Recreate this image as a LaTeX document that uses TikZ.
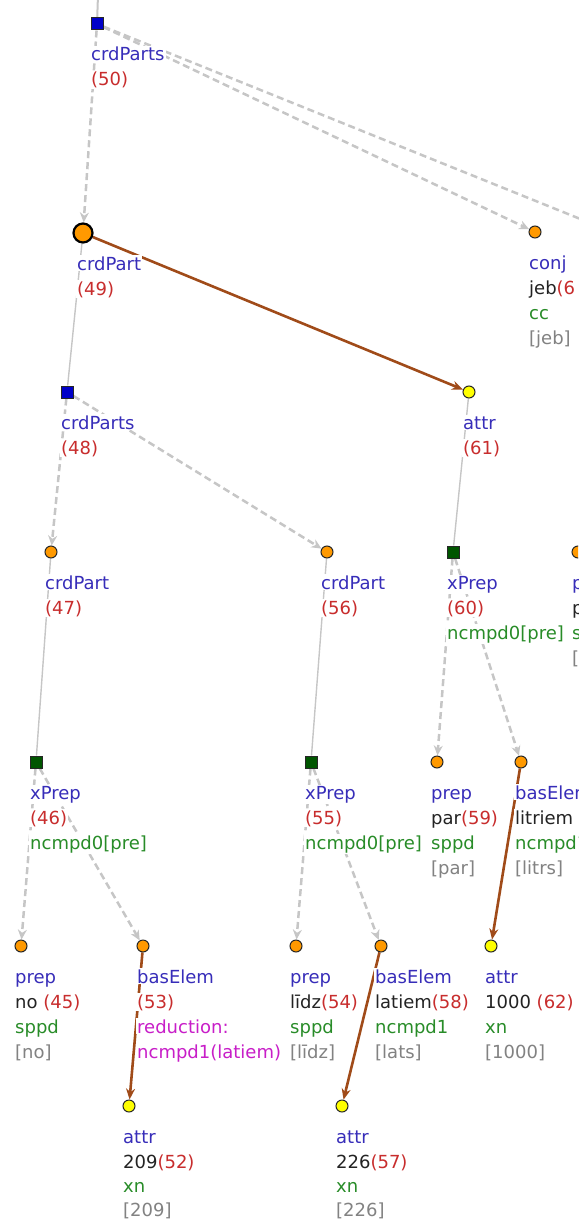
\documentclass[tikz,border=0pt]{standalone}
\usepackage{fontspec}
\setmainfont{DejaVu Sans}
\usetikzlibrary{arrows.meta}
\pgfdeclarelayer{edgelayer}
\pgfsetlayers{edgelayer,main}
\definecolor{typc}{RGB}{55,45,185}
\definecolor{numc}{RGB}{200,45,45}
\definecolor{wrdc}{RGB}{35,35,35}
\definecolor{tagc}{RGB}{40,140,40}
\definecolor{lemc}{RGB}{130,130,130}
\definecolor{redc}{RGB}{200,30,200}
\definecolor{edgc}{RGB}{198,198,198}
\definecolor{brnc}{RGB}{160,75,25}
\definecolor{orgc}{RGB}{255,153,0}
\definecolor{yelc}{RGB}{255,255,0}
\definecolor{bluc}{RGB}{0,0,200}
\definecolor{grnc}{RGB}{0,85,0}
\begin{document}
\begin{tikzpicture}[x=1pt,y=-1pt,
  lab/.style={anchor=base west,inner sep=1pt,fill=white,font=\fontsize{18}{22}\selectfont},
  typ/.style={lab,text=typc},
  num/.style={lab,text=numc},
  tag/.style={lab,text=tagc},
  lem/.style={lab,text=lemc},
  rdc/.style={lab,text=redc},
  wrd/.style={lab,text=wrdc},
  mk/.style={draw=black!85,line width=1pt,inner sep=0pt},
  sqblue/.style={mk,rectangle,fill=bluc,minimum size=12pt},
  sqgreen/.style={mk,rectangle,fill=grnc,minimum size=12pt},
  corange/.style={mk,circle,fill=orgc,minimum size=12pt},
  cyellow/.style={mk,circle,fill=yelc,minimum size=12pt},
  cbig/.style={mk,circle,fill=orgc,minimum size=19pt,line width=2.2pt,draw=black},
  dashedge/.style={draw=edgc,line width=2.5pt,dash pattern=on 7pt off 4pt,-{Stealth[length=10pt,width=9pt]}},
  plainedge/.style={draw=edgc,line width=1.4pt},
  brownedge/.style={draw=brnc,line width=2.6pt,-{Stealth[length=11pt,width=9pt]}}]
\useasboundingbox (0,0) rectangle (578,1220);
\clip (0,0) rectangle (578,1220);
% ---------- labels ----------
\node[typ] (l50a) at (90,61) {crdParts};
\node[num] (l50b) at (90,86) {(50)};
\node[typ] (l49a) at (76,270) {crdPart};
\node[num] (l49b) at (76,295) {(49)};
\node[typ] (lcja) at (528,269) {conj};
\node[wrd] (lcjb) at (528,294) {jeb{\color{numc}(6}};
\node[tag] (lcjc) at (528,319) {cc};
\node[lem] (lcjd) at (528,344) {[jeb]};
\node[typ] (l48a) at (60,429) {crdParts};
\node[num] (l48b) at (60,454) {(48)};
\node[typ] (l61a) at (462,429) {attr};
\node[num] (l61b) at (462,454) {(61)};
\node[typ] (l47a) at (44,589) {crdPart};
\node[num] (l47b) at (44,614) {(47)};
\node[typ] (l56a) at (320,589) {crdPart};
\node[num] (l56b) at (320,614) {(56)};
\node[typ] (l60a) at (446,589) {xPrep};
\node[num] (l60b) at (446,614) {(60)};
\node[tag] (l60c) at (446,639) {ncmpd0[pre]};
\node[typ] (lra) at (571,589) {p};
\node[wrd] (lrb) at (571,614) {p};
\node[tag] (lrc) at (571,639) {sppd};
\node[lem] (lrd) at (571,664) {[p};
\node[typ] (l46a) at (29,799) {xPrep};
\node[num] (l46b) at (29,824) {(46)};
\node[tag] (l46c) at (29,849) {ncmpd0[pre]};
\node[typ] (l55a) at (304,799) {xPrep};
\node[num] (l55b) at (304,824) {(55)};
\node[tag] (l55c) at (304,849) {ncmpd0[pre]};
\node[typ] (l59a) at (430,799) {prep};
\node[wrd] (l59b) at (430,824) {par{\color{numc}(59)}};
\node[tag] (l59c) at (430,849) {sppd};
\node[lem] (l59d) at (430,874) {[par]};
\node[typ] (llta) at (514,799) {basElem};
\node[wrd] (lltb) at (514,824) {litriem};
\node[tag] (lltc) at (514,849) {ncmpd1};
\node[lem] (lltd) at (514,874) {[litrs]};
\node[typ] (l45a) at (14,983) {prep};
\node[wrd] (l45b) at (14,1008) {no {\color{numc}(45)}};
\node[tag] (l45c) at (14,1033) {sppd};
\node[lem] (l45d) at (14,1058) {[no]};
\node[typ] (l53a) at (136,983) {basElem};
\node[num] (l53b) at (136,1008) {(53)};
\node[rdc] (l53c) at (136,1033) {reduction:};
\node[rdc] (l53d) at (136,1058) {ncmpd1(latiem)};
\node[typ] (l54a) at (289,983) {prep};
\node[wrd] (l54b) at (289,1008) {līdz{\color{numc}(54)}};
\node[tag] (l54c) at (289,1033) {sppd};
\node[lem] (l54d) at (289,1058) {[līdz]};
\node[typ] (l58a) at (374,983) {basElem};
\node[wrd] (l58b) at (374,1008) {latiem{\color{numc}(58)}};
\node[tag] (l58c) at (374,1033) {ncmpd1};
\node[lem] (l58d) at (374,1058) {[lats]};
\node[typ] (l62a) at (484,983) {attr};
\node[wrd] (l62b) at (484,1008) {1000 {\color{numc}(62)}};
\node[tag] (l62c) at (484,1033) {xn};
\node[lem] (l62d) at (484,1058) {[1000]};
\node[typ] (l52a) at (122,1143) {attr};
\node[wrd] (l52b) at (122,1168) {209{\color{numc}(52)}};
\node[tag] (l52c) at (122,1192) {xn};
\node[lem] (l52d) at (122,1216) {[209]};
\node[typ] (l57a) at (335,1143) {attr};
\node[wrd] (l57b) at (335,1168) {226{\color{numc}(57)}};
\node[tag] (l57c) at (335,1192) {xn};
\node[lem] (l57d) at (335,1216) {[226]};
% ---------- markers ----------
\node[sqblue] (n50) at (97,24) {};
\node[cbig] (n49) at (83,233) {};
\node[corange] (nconj) at (535,232) {};
\node[sqblue] (n48) at (67,392) {};
\node[cyellow] (n61) at (469,392) {};
\node[corange] (n47) at (51,552) {};
\node[corange] (n56) at (327,552) {};
\node[sqgreen] (n60) at (453,552) {};
\node[corange] (nr) at (578,552) {};
\node[sqgreen] (n46) at (36,762) {};
\node[sqgreen] (n55) at (311,762) {};
\node[corange] (n59) at (437,762) {};
\node[corange] (nlit) at (521,762) {};
\node[corange] (n45) at (21,946) {};
\node[corange] (n53) at (143,946) {};
\node[corange] (n54) at (296,946) {};
\node[corange] (n58) at (381,946) {};
\node[cyellow] (n62) at (491,946) {};
\node[cyellow] (n52) at (129,1106) {};
\node[cyellow] (n57) at (342,1106) {};
\coordinate (ctop) at (98,-5);
\coordinate (coffr) at (625,237);
% ---------- edges ----------
\begin{pgfonlayer}{edgelayer}
\draw[plainedge,line width=2pt] (n50) -- (ctop);
\draw[dashedge] (n50) -- (n49);
\draw[dashedge] (n50) -- (nconj);
\draw[dashedge,-] (n50) -- (coffr);
\draw[brownedge] (n49) -- (n61);
\draw[plainedge] (n49) -- (n48);
\draw[dashedge] (n48) -- (n47);
\draw[dashedge] (n48) -- (n56);
\draw[plainedge] (n47) -- (n46);
\draw[plainedge] (n56) -- (n55);
\draw[plainedge] (n61) -- (n60);
\draw[dashedge] (n46) -- (n45);
\draw[dashedge] (n46) -- (n53);
\draw[dashedge] (n55) -- (n54);
\draw[dashedge] (n55) -- (n58);
\draw[dashedge] (n60) -- (n59);
\draw[dashedge] (n60) -- (nlit);
\draw[brownedge] (n53) -- (n52);
\draw[brownedge] (n58) -- (n57);
\draw[brownedge] (nlit) -- (n62);
\end{pgfonlayer}
\end{tikzpicture}
\end{document}
